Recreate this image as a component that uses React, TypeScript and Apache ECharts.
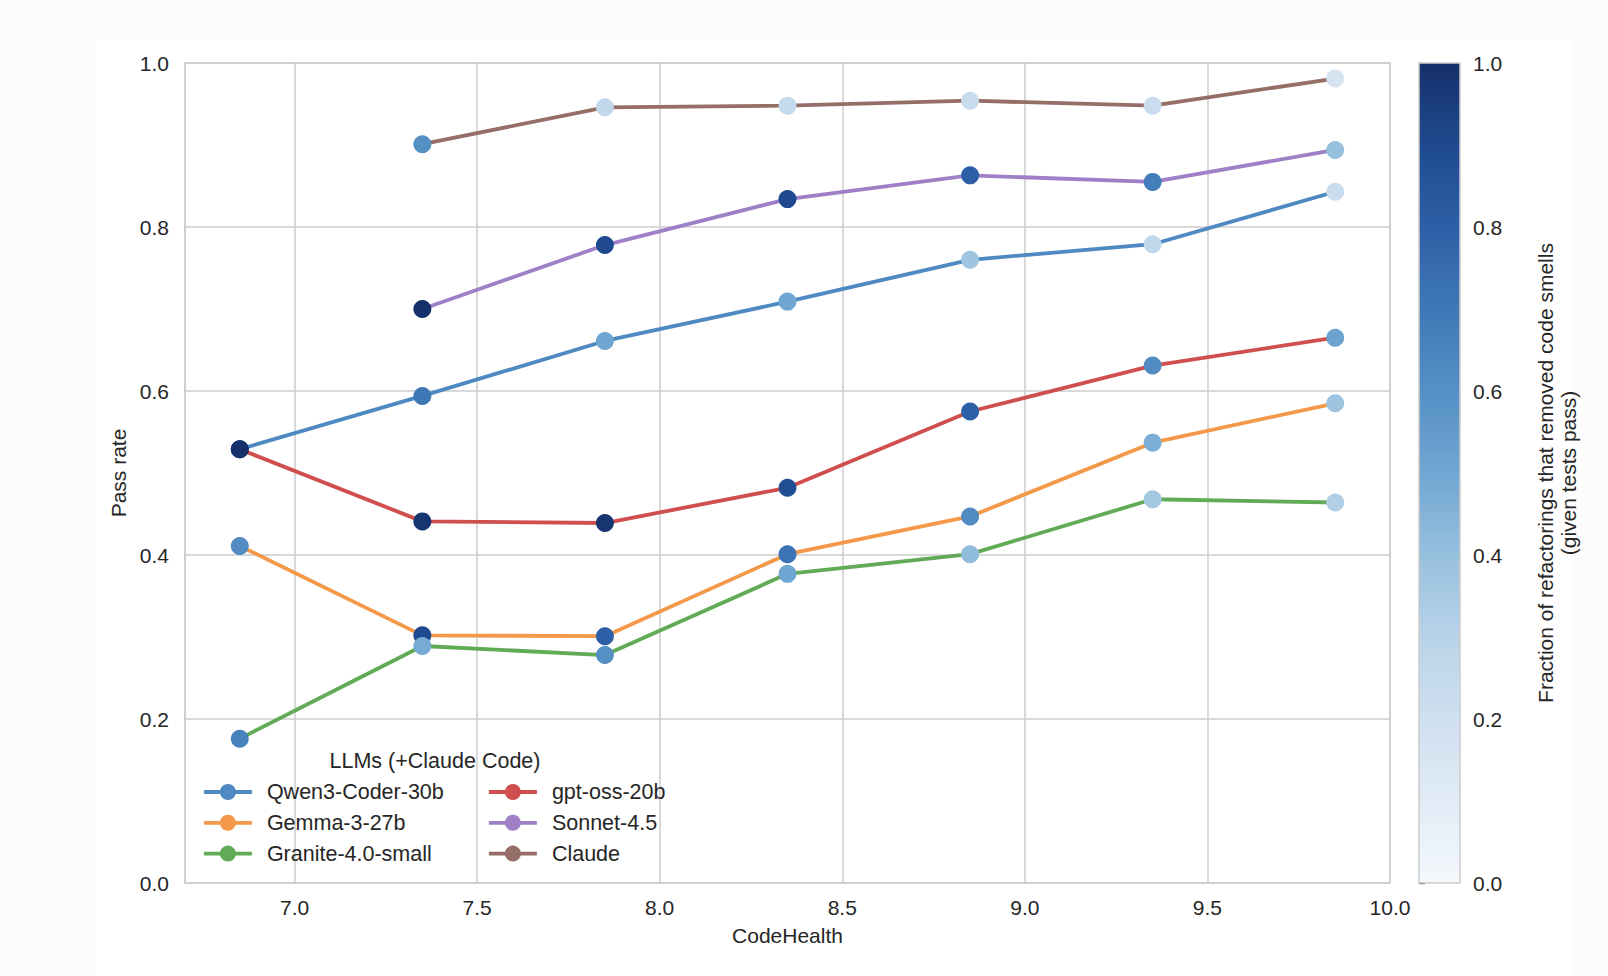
import React, { useEffect, useRef } from "react";
import * as echarts from "echarts";

// ---- data ----
const CODE_HEALTH = [6.85, 7.35, 7.85, 8.35, 8.85, 9.35, 9.85];

const MODEL_NAMES = [
  "Qwen3-Coder-30b",
  "Gemma-3-27b",
  "Granite-4.0-small",
  "gpt-oss-20b",
  "Sonnet-4.5",
  "Claude",
];

const QWEN_PASS = [0.529, 0.594, 0.661, 0.709, 0.76, 0.779, 0.843];
const GEMMA_PASS = [0.411, 0.302, 0.301, 0.401, 0.447, 0.537, 0.585];
const GRANITE_PASS = [0.176, 0.289, 0.278, 0.377, 0.401, 0.468, 0.464];
const GPT_PASS = [0.529, 0.441, 0.439, 0.482, 0.575, 0.631, 0.665];
const SONNET_PASS = [null, 0.7, 0.778, 0.834, 0.863, 0.855, 0.894];
const CLAUDE_PASS = [null, 0.901, 0.946, 0.948, 0.954, 0.948, 0.981];

const QWEN_SMELL = [0.95, 0.7, 0.5, 0.5, 0.38, 0.26, 0.22];
const GEMMA_SMELL = [0.62, 0.9, 0.8, 0.72, 0.62, 0.47, 0.38];
const GRANITE_SMELL = [0.66, 0.48, 0.6, 0.5, 0.42, 0.36, 0.32];
const GPT_SMELL = [1.0, 0.98, 0.98, 0.88, 0.8, 0.62, 0.52];
const SONNET_SMELL = [null, 1.0, 0.9, 0.9, 0.8, 0.68, 0.4];
const CLAUDE_SMELL = [null, 0.6, 0.26, 0.25, 0.23, 0.22, 0.16];

const PASS_RATES = [QWEN_PASS, GEMMA_PASS, GRANITE_PASS, GPT_PASS, SONNET_PASS, CLAUDE_PASS];
const SMELL_FRACTIONS = [QWEN_SMELL, GEMMA_SMELL, GRANITE_SMELL, GPT_SMELL, SONNET_SMELL, CLAUDE_SMELL];

const LINE_COLORS = ["#4e89c1", "#f4994a", "#61aa56", "#cf4f4e", "#9f80c7", "#946e67"];

// colormap stops, low -> high
const BLUES = [
  "#f4f8fc",
  "#e1ebf6",
  "#cfe0f0",
  "#b8d3e9",
  "#97c0de",
  "#70a6d2",
  "#5590c5",
  "#3f78b7",
  "#2d5fa6",
  "#1f4a8f",
  "#15306a",
];

const LEGEND_TITLE = "LLMs (+Claude Code)";
const X_NAME = "CodeHealth";
const Y_NAME = "Pass rate";
const CBAR_NAME = "Fraction of refactorings that removed code smells\n(given tests pass)";

const FONT = '"Liberation Sans", Arial, Helvetica, sans-serif';
const TEXT = "#262626";
const GRID = "#cccccc";

export default function App() {
  const ref = useRef<HTMLDivElement>(null);

  useEffect(() => {
    if (!ref.current) return;
    const chart = echarts.init(ref.current, null, { renderer: "svg" });

    const lineSeries: any[] = [];
    const scatterSeries: any[] = [];
    MODEL_NAMES.forEach((name, i) => {
      const pts: number[][] = [];
      const sc: number[][] = [];
      CODE_HEALTH.forEach((x, j) => {
        const y = PASS_RATES[i][j];
        const f = SMELL_FRACTIONS[i][j];
        if (y == null) return;
        pts.push([x, y]);
        sc.push([x, y, f as number]);
      });
      lineSeries.push({
        type: "line",
        name,
        data: pts,
        xAxisIndex: 0,
        yAxisIndex: 0,
        symbol: "circle",
        symbolSize: 15,
        showSymbol: true,
        color: LINE_COLORS[i],
        lineStyle: { color: LINE_COLORS[i], width: 3.8 },
        itemStyle: { color: LINE_COLORS[i] },
        z: 2,
        emphasis: { disabled: true },
        silent: true,
      });
      scatterSeries.push({
        type: "scatter",
        name: name + " markers",
        data: sc,
        xAxisIndex: 0,
        yAxisIndex: 0,
        symbol: "circle",
        symbolSize: 18,
        itemStyle: { opacity: 1 },
        z: 3,
        emphasis: { disabled: true },
        silent: true,
      });
    });

    const scatterIdx = scatterSeries.map((_, k) => lineSeries.length + k);

    const legendBase = {
      orient: "vertical",
      itemWidth: 48,
      itemHeight: 20,
      itemGap: 8.8,
      selectedMode: false,
      padding: 0,
      lineStyle: { width: 3.8 },
      textStyle: {
        fontSize: 21.5,
        fontFamily: FONT,
        color: TEXT,
        lineHeight: 20,
        padding: [0, 0, 0, 10],
      },
    };

    const option: any = {
      animation: false,
      backgroundColor: "#fcfcfc",
      textStyle: { fontFamily: FONT },
      graphic: [
        {
          type: "rect",
          z: -10,
          shape: { x: 95, y: 39, width: 1479, height: 940 },
          style: { fill: "#ffffff" },
          silent: true,
        },
        {
          type: "text",
          z: 100,
          x: 435,
          y: 761,
          style: {
            text: LEGEND_TITLE,
            fontSize: 21.5,
            fontFamily: FONT,
            fill: TEXT,
            align: "center",
            verticalAlign: "middle",
          },
          silent: true,
        },
      ],
      grid: [
        {
          left: 185,
          top: 63,
          width: 1205,
          height: 820,
          show: true,
          borderColor: GRID,
          borderWidth: 1.5,
          backgroundColor: "transparent",
        },
        {
          left: 1419,
          top: 63,
          width: 41,
          height: 820,
          show: true,
          borderColor: GRID,
          borderWidth: 1.5,
          backgroundColor: "transparent",
          z: 10,
        },
      ],
      xAxis: [
        {
          type: "value",
          gridIndex: 0,
          min: 6.7,
          max: 10,
          axisLine: { show: false },
          axisTick: { show: false },
          splitLine: { show: true, lineStyle: { color: GRID, width: 1.5 } },
          axisLabel: {
            fontSize: 21,
            color: TEXT,
            fontFamily: FONT,
            margin: 14,
            formatter: (v: number) =>
              Math.abs(v * 2 - Math.round(v * 2)) < 1e-6 ? v.toFixed(1) : "",
          },
          name: X_NAME,
          nameLocation: "middle",
          nameGap: 42,
          nameTextStyle: { fontSize: 21, color: TEXT, fontFamily: FONT },
        },
        {
          type: "value",
          gridIndex: 1,
          min: 0,
          max: 1,
          show: false,
        },
      ],
      yAxis: [
        {
          type: "value",
          gridIndex: 0,
          min: 0,
          max: 1,
          interval: 0.2,
          axisLine: { show: false },
          axisTick: { show: false },
          splitLine: { show: true, lineStyle: { color: GRID, width: 1.5 } },
          axisLabel: {
            fontSize: 21,
            color: TEXT,
            fontFamily: FONT,
            margin: 16,
            formatter: (v: number) => v.toFixed(1),
          },
          name: Y_NAME,
          nameLocation: "middle",
          nameRotate: 90,
          nameGap: 56,
          nameTextStyle: { fontSize: 21, color: TEXT, fontFamily: FONT },
        },
        {
          type: "value",
          gridIndex: 1,
          min: 0,
          max: 1,
          interval: 0.2,
          position: "right",
          axisLine: { show: false },
          axisTick: {
            show: true,
            length: 6,
            inside: false,
            lineStyle: { color: TEXT, width: 1.3 },
          },
          splitLine: { show: false },
          axisLabel: {
            fontSize: 21,
            color: TEXT,
            fontFamily: FONT,
            margin: 13,
            formatter: (v: number) => v.toFixed(1),
          },
          name: CBAR_NAME,
          nameLocation: "middle",
          nameRotate: 90,
          nameGap: 74,
          nameTextStyle: {
            fontSize: 21,
            color: TEXT,
            fontFamily: FONT,
            lineHeight: 23,
            align: "center",
          },
        },
      ],
      visualMap: {
        type: "continuous",
        min: 0,
        max: 1,
        dimension: 2,
        seriesIndex: scatterIdx,
        inRange: { color: BLUES },
        calculable: false,
        show: true,
        orient: "vertical",
        left: 1419,
        top: 63,
        itemWidth: 41,
        itemHeight: 820,
        padding: 0,
        text: null,
        hoverLink: false,
        indicatorSize: 0,
        handleSize: 0,
      },
      legend: [
        { ...legendBase, data: MODEL_NAMES.slice(0, 3), left: 202, top: 781 },
        { ...legendBase, data: MODEL_NAMES.slice(3, 6), left: 487, top: 781 },
      ],
      series: [...lineSeries, ...scatterSeries],
    };

    chart.setOption(option);
    return () => chart.dispose();
  }, []);

  return (
    <div
      ref={ref}
      style={{ position: "absolute", left: 0, top: 0, width: 1608, height: 976 }}
    />
  );
}
